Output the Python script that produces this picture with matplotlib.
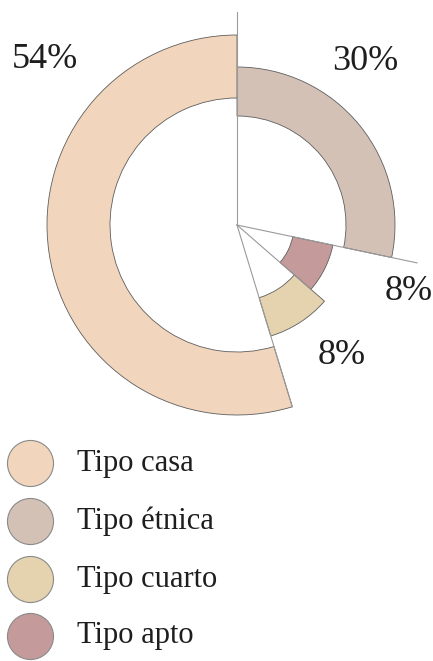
import numpy as np
import matplotlib
matplotlib.use('Agg')
import matplotlib.pyplot as plt

W, H = 433, 661

# Categories in legend order
labels = ['Tipo casa', 'Tipo étnica', 'Tipo cuarto', 'Tipo apto']
pct_text = ['54%', '30%', '8%', '8%']
# angular share of each slice
shares = [0.547, 0.283, 0.089, 0.081]
# ring radii (pixels)
r_outer = [190, 158, 116, 98]
r_inner = [127, 109, 76, 57]
colors = ['#F1D5BC', '#D4C1B6', '#E5D2AF', '#C49A9B']
# clockwise order from 12 o'clock
draw_order = [1, 3, 2, 0]

plt.rcParams['font.family'] = ['Liberation Serif', 'DejaVu Serif']

fig = plt.figure(figsize=(W / 100, H / 100), dpi=100)

# polar axes centred on the donut centre
cx, cy = 237, 225
R = 215
ax = fig.add_axes([(cx - R) / W, (H - cy - R) / H, 2 * R / W, 2 * R / H],
                  projection='polar')
ax.set_theta_zero_location('N')
ax.set_theta_direction(-1)
ax.set_ylim(0, R)
ax.axis('off')

start = 0.0
edges = [0.0]
for i in draw_order:
    width = shares[i] * 2 * np.pi
    ax.bar(start, r_outer[i] - r_inner[i], width=width, bottom=r_inner[i],
           align='edge', color=colors[i], edgecolor='#5e5e5e', linewidth=0.6)
    start += width
    edges.append(start)

# thin radial guide lines from the centre
line_len = [213, 184, 98, 190]
for th, L in zip(edges[:4], line_len):
    ax.plot([th, th], [0, L], color='#9a9a9a', linewidth=0.8)

# percentage labels
label_pos = {0: (45, 60), 1: (365, 61), 3: (409, 291), 2: (342, 355)}
for i, (x, y) in label_pos.items():
    fig.text(x / W, 1 - y / H, pct_text[i], fontsize=26, ha='center',
             va='center', color='#1e1e1e')

# legend drawn on an overlay in pixel units
ov = fig.add_axes([0, 0, 1, 1])
ov.set_xlim(0, W)
ov.set_ylim(H, 0)
ov.axis('off')
leg_y = [463, 521, 579, 636]
for i, y in enumerate(leg_y):
    ov.scatter(30, y, s=1100, color=colors[i], edgecolor='#8a8a8a',
               linewidth=0.8)
    ov.text(77, y, labels[i], fontsize=22, va='center', ha='left',
            color='#1e1e1e')

fig.savefig('out.png', dpi=100)
